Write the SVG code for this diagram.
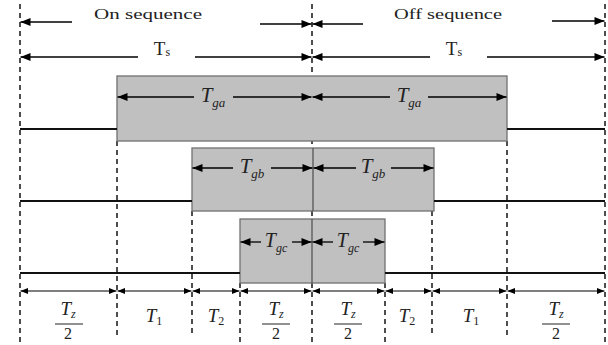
<svg xmlns="http://www.w3.org/2000/svg" width="608" height="345" viewBox="0 0 608 345">
<defs>
<marker id="ah" viewBox="0 0 10 8" refX="10" refY="4" markerWidth="11" markerHeight="8" markerUnits="userSpaceOnUse" orient="auto-start-reverse"><path d="M0,0 L10,4 L0,8 Z" fill="#000"/></marker>
<marker id="as" viewBox="0 0 10 8" refX="10" refY="4" markerWidth="8" markerHeight="6" markerUnits="userSpaceOnUse" orient="auto-start-reverse"><path d="M0,0 L10,4 L0,8 Z" fill="#000"/></marker>
</defs>
<style>
.dash{stroke:#222;stroke-width:1.6;stroke-dasharray:5,4;fill:none}
.wave{stroke:#111;stroke-width:2;fill:none}
.box{fill:#c0c0c0;stroke:#707070;stroke-width:1.3}
.div{stroke:#555;stroke-width:1.3}
.arr{stroke:#000;stroke-width:1.3;fill:none;marker-end:url(#ah)}
.arrs{stroke:#000;stroke-width:1.2;fill:none;marker-start:url(#as);marker-end:url(#as)}
.lbl{font-family:"Liberation Serif","DejaVu Serif",serif;fill:#222}
.it{font-style:italic}
</style>
<g id="grid">
<line class="dash" x1="20" y1="4" x2="20" y2="345"/>
<line class="dash" x1="312" y1="4" x2="312" y2="345"/>
<line class="dash" x1="605" y1="4" x2="605" y2="345"/>
<line class="dash" x1="117" y1="141" x2="117" y2="336"/>
<line class="dash" x1="507" y1="141" x2="507" y2="336"/>
<line class="dash" x1="192" y1="211" x2="192" y2="337"/>
<line class="dash" x1="432" y1="211" x2="432" y2="337"/>
<line class="dash" x1="240" y1="283" x2="240" y2="345"/>
<line class="dash" x1="385" y1="283" x2="385" y2="345"/>
</g>
<g id="wave-a">
<rect class="box" x="117" y="76" width="390" height="65"/>
<line class="wave" x1="20" y1="129" x2="117" y2="129"/>
<line class="wave" x1="507" y1="129" x2="605" y2="129"/>
</g>
<g id="wave-b">
<rect class="box" x="192" y="148" width="242" height="63"/>
<line class="div" x1="313" y1="148" x2="313" y2="211"/>
<line class="wave" x1="20" y1="201" x2="192" y2="201"/>
<line class="wave" x1="434" y1="201" x2="605" y2="201"/>
</g>
<g id="wave-c">
<rect class="box" x="240" y="219" width="145" height="64"/>
<line class="div" x1="312" y1="219" x2="312" y2="283"/>
<line class="wave" x1="20" y1="273" x2="240" y2="273"/>
<line class="wave" x1="385" y1="273" x2="605" y2="273"/>
</g>
<g id="connectors">
<line class="arr" x1="72" y1="22" x2="20.5" y2="22"/>
<line class="arr" x1="260" y1="24" x2="311.5" y2="24"/>
<line class="arr" x1="363" y1="24" x2="312.5" y2="24"/>
<line class="arr" x1="552" y1="21" x2="604.5" y2="21"/>
<line class="arr" x1="138" y1="57" x2="20.5" y2="57"/>
<line class="arr" x1="195" y1="57" x2="311.5" y2="57"/>
<line class="arr" x1="430" y1="57" x2="312.5" y2="57"/>
<line class="arr" x1="487" y1="57" x2="604.5" y2="57"/>
<line class="arr" x1="194" y1="97" x2="117.5" y2="97"/>
<line class="arr" x1="233" y1="97" x2="311.5" y2="97"/>
<line class="arr" x1="390" y1="97" x2="312.5" y2="97"/>
<line class="arr" x1="428" y1="97" x2="506.5" y2="97"/>
<line class="arr" x1="233" y1="168" x2="192.5" y2="168"/>
<line class="arr" x1="271" y1="168" x2="312.5" y2="168"/>
<line class="arr" x1="356" y1="168" x2="313.5" y2="168"/>
<line class="arr" x1="391" y1="168" x2="433.5" y2="168"/>
<line class="arr" x1="261" y1="242" x2="240.5" y2="242"/>
<line class="arr" x1="292" y1="242" x2="311.5" y2="242"/>
<line class="arr" x1="333" y1="242" x2="312.5" y2="242"/>
<line class="arr" x1="363" y1="242" x2="384.5" y2="242"/>
<line class="arrs" x1="20.5" y1="291" x2="116.5" y2="291"/>
<line class="arrs" x1="117.5" y1="291" x2="191.5" y2="291"/>
<line class="arrs" x1="192.5" y1="291" x2="239.5" y2="291"/>
<line class="arrs" x1="240.5" y1="291" x2="311.5" y2="291"/>
<line class="arrs" x1="312.5" y1="291" x2="384.5" y2="291"/>
<line class="arrs" x1="385.5" y1="291" x2="431.5" y2="291"/>
<line class="arrs" x1="432.5" y1="291" x2="506.5" y2="291"/>
<line class="arrs" x1="507.5" y1="291" x2="604.5" y2="291"/>
</g>
<g id="labels" class="lbl">
<text x="148" y="19" font-size="15" text-anchor="middle" textLength="108" lengthAdjust="spacingAndGlyphs">On sequence</text>
<text x="448" y="19" font-size="15" text-anchor="middle" textLength="108" lengthAdjust="spacingAndGlyphs">Off sequence</text>
<text x="162" y="55" font-size="19" text-anchor="middle">T<tspan font-size="12" dy="1">s</tspan></text>
<text x="454" y="55" font-size="19" text-anchor="middle">T<tspan font-size="12" dy="1">s</tspan></text>
<text x="213" y="102" font-size="21" text-anchor="middle" class="it">T<tspan font-size="13" dy="5">ga</tspan></text>
<text x="409" y="102" font-size="21" text-anchor="middle" class="it">T<tspan font-size="13" dy="5">ga</tspan></text>
<text x="252" y="173" font-size="21" text-anchor="middle" class="it">T<tspan font-size="13" dy="5">gb</tspan></text>
<text x="373" y="173" font-size="21" text-anchor="middle" class="it">T<tspan font-size="13" dy="5">gb</tspan></text>
<text x="276" y="247" font-size="20" text-anchor="middle" class="it">T<tspan font-size="12" dy="5">gc</tspan></text>
<text x="348" y="247" font-size="20" text-anchor="middle" class="it">T<tspan font-size="12" dy="5">gc</tspan></text>
<g id="tz1"><text x="68" y="315" font-size="19" text-anchor="middle" class="it">T<tspan font-size="12" dy="3">z</tspan></text><line x1="55" y1="324" x2="83" y2="324" stroke="#222" stroke-width="1"/><text x="68" y="339" font-size="16" text-anchor="middle">2</text></g>
<text x="154" y="322" font-size="19" text-anchor="middle" class="it">T<tspan font-size="12" dy="3" font-style="normal">1</tspan></text>
<text x="216" y="322" font-size="19" text-anchor="middle" class="it">T<tspan font-size="12" dy="3" font-style="normal">2</tspan></text>
<g id="tz2"><text x="276" y="315" font-size="19" text-anchor="middle" class="it">T<tspan font-size="12" dy="3">z</tspan></text><line x1="262" y1="324" x2="290" y2="324" stroke="#222" stroke-width="1"/><text x="276" y="339" font-size="16" text-anchor="middle">2</text></g>
<g id="tz3"><text x="348" y="315" font-size="19" text-anchor="middle" class="it">T<tspan font-size="12" dy="3">z</tspan></text><line x1="334" y1="324" x2="362" y2="324" stroke="#222" stroke-width="1"/><text x="348" y="339" font-size="16" text-anchor="middle">2</text></g>
<text x="407" y="322" font-size="19" text-anchor="middle" class="it">T<tspan font-size="12" dy="3" font-style="normal">2</tspan></text>
<text x="471" y="322" font-size="19" text-anchor="middle" class="it">T<tspan font-size="12" dy="3" font-style="normal">1</tspan></text>
<g id="tz4"><text x="556" y="315" font-size="19" text-anchor="middle" class="it">T<tspan font-size="12" dy="3">z</tspan></text><line x1="542" y1="324" x2="570" y2="324" stroke="#222" stroke-width="1"/><text x="556" y="339" font-size="16" text-anchor="middle">2</text></g>
</g>
</svg>
